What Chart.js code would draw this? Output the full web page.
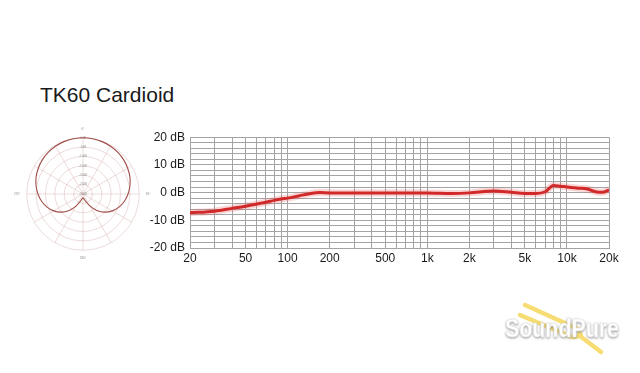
<!DOCTYPE html>
<html>
<head>
<meta charset="utf-8">
<script src="https://cdn.jsdelivr.net/npm/chart.js@4.4.1/dist/chart.umd.min.js"></script>
<style>
  html, body { margin: 0; padding: 0; background: #fff; }
  body { width: 640px; height: 373px; position: relative; overflow: hidden; font-family: "Liberation Sans", Arial, sans-serif; }
  #title { position: absolute; left: 40px; top: 84px; font-size: 21px; line-height: 21px; color: #1a1a1a; white-space: nowrap; }
  #polarBox { position: absolute; left: 14px; top: 125px; width: 138px; height: 138px; }
  #freqBox { position: absolute; left: 140px; top: 125px; width: 485px; height: 150px; }
  #mark { position: absolute; left: 495px; top: 290px; }
</style>
</head>
<body>
<div id="title">TK60 Cardioid</div>
<div id="polarBox"><canvas id="polarChart"></canvas></div>
<div id="freqBox"><canvas id="freqChart"></canvas></div>
<svg id="mark" width="140" height="75" viewBox="0 0 140 75">
  <defs>
    <filter id="shade" x="-10%" y="-30%" width="120%" height="160%">
      <feDropShadow dx="0" dy="1" stdDeviation="1.3" flood-color="#7a7a7a" flood-opacity="0.8"/>
    </filter>
  </defs>
  <g stroke="#f6d963" stroke-width="4.5" stroke-linecap="round" stroke-linejoin="round" fill="none" opacity="0.9">
    <polyline points="30,15 83,39 86,46 77,47 25,25"/>
    <line x1="85" y1="46" x2="106" y2="62"/>
  </g>
  <text x="10" y="47" font-family="Liberation Sans, Arial, sans-serif" font-size="26" font-weight="bold" fill="#fff"
        stroke="#e2e2e2" stroke-width="0.6" textLength="114" lengthAdjust="spacingAndGlyphs"
        filter="url(#shade)">SoundPure</text>
</svg>
<script>
// polar pattern (dB), every 10 degrees, 0 = front (top)
const polarAngles = ['0°','10°','20°','30°','40°','50°','60°','70°','80°','90°','100°','110°','120°','130°','140°','150°','160°','170°',
                     '180°','190°','200°','210°','220°','230°','240°','250°','260°','270°','280°','290°','300°','310°','320°','330°','340°','350°'];
const polarDb = [0, -0.1, -0.3, -0.6, -1.1, -1.7, -2.5, -3.4, -4.6, -6.0, -7.6, -9.6, -12.0, -15.0, -18.6, -22.5, -26.0, -27.5,
                 -28.0, -27.5, -26.0, -22.5, -18.6, -15.0, -12.0, -9.6, -7.6, -6.0, -4.6, -3.4, -2.5, -1.7, -1.1, -0.6, -0.3, -0.1];
const polarShown = ['0°', '90°', '180°', '270°'];

// frequency response
const freqHz = [20, 30, 40, 50, 60, 70, 80, 90, 100, 120, 150, 170, 200, 300, 500, 1000, 1500, 2000, 3000, 4000, 5000, 6000,
                7000, 8000, 9000, 10000, 12000, 14000, 16000, 18000, 20000];
const responseDb = [-7.3, -6.7, -5.7, -4.9, -4.1, -3.5, -2.8, -2.3, -2.0, -1.2, -0.2, 0, -0.1, -0.1, -0.1, -0.1, -0.3, -0.1, 0.6, 0.1, -0.3, -0.3,
                    0.3, 2.6, 2.3, 2.0, 1.6, 1.3, 0.3, 0.1, 1.0];
const gridHz = [20, 30, 40, 50, 60, 70, 80, 90, 100, 200, 300, 400, 500, 600, 700, 800, 900, 1000, 2000, 3000, 4000, 5000, 6000,
                7000, 8000, 9000, 10000, 20000];
const freqLabels = { 20: '20', 50: '50', 100: '100', 200: '200', 500: '500', 1000: '1k', 2000: '2k', 5000: '5k', 10000: '10k', 20000: '20k' };

const polarGrid = 'rgba(210, 165, 165, 0.5)';

new Chart(document.getElementById('polarChart'), {
    type: 'radar',
    data: {
        labels: polarAngles,
        datasets: [{
            data: polarDb,
            borderColor: '#a04e48',
            borderWidth: 1.1,
            pointRadius: 0,
            fill: false,
            tension: 0.3
        }]
    },
    options: {
        responsive: true,
        maintainAspectRatio: false,
        animation: false,
        plugins: { legend: { display: false }, tooltip: { enabled: false } },
        scales: {
            r: {
                min: -30,
                max: 0,
                ticks: {
                    stepSize: 5,
                    font: { size: 3 },
                    color: '#999',
                    showLabelBackdrop: false,
                    callback: v => v + 'dB'
                },
                grid: { circular: true, color: polarGrid, lineWidth: 0.8 },
                angleLines: {
                    color: polarGrid,
                    lineWidth: ctx => (ctx.index % 3 === 0 ? 0.8 : 0)
                },
                pointLabels: {
                    font: { size: 3 },
                    color: '#888',
                    padding: 3,
                    callback: label => (polarShown.includes(label) ? label : '')
                }
            }
        }
    }
});

const points = freqHz.map((f, i) => ({ x: f, y: responseDb[i] }));

new Chart(document.getElementById('freqChart'), {
    type: 'line',
    data: {
        datasets: [
            { data: points, borderColor: 'rgba(235, 90, 90, 0.25)', borderWidth: 7, pointRadius: 0, cubicInterpolationMode: 'monotone' },
            { data: points, borderColor: '#c81818', borderWidth: 3, pointRadius: 0, cubicInterpolationMode: 'monotone' }
        ]
    },
    options: {
        responsive: true,
        maintainAspectRatio: false,
        animation: false,
        layout: { padding: { top: 12, right: 16, bottom: 7, left: 0 } },
        plugins: { legend: { display: false }, tooltip: { enabled: false } },
        scales: {
            x: {
                type: 'logarithmic',
                min: 20,
                max: 20000,
                afterBuildTicks: scale => { scale.ticks = gridHz.map(v => ({ value: v })); },
                afterFit: scale => { scale.height = 20; },
                ticks: {
                    autoSkip: false,
                    maxRotation: 0,
                    padding: 3,
                    color: '#1a1a1a',
                    font: { family: 'Liberation Sans', size: 12 },
                    callback: v => freqLabels[v] || ''
                },
                grid: { color: '#a4a4a4', lineWidth: 1, drawTicks: false },
                border: { color: '#a4a4a4' }
            },
            y: {
                min: -20,
                max: 20,
                afterFit: scale => { scale.width = 50; },
                ticks: {
                    stepSize: 2,
                    autoSkip: false,
                    padding: 5,
                    color: '#1a1a1a',
                    font: { family: 'Liberation Sans', size: 12 },
                    callback: v => (v % 10 === 0 ? v + ' dB' : '')
                },
                grid: { color: '#a4a4a4', lineWidth: 1, drawTicks: false },
                border: { color: '#a4a4a4' }
            }
        }
    }
});
</script>
</body>
</html>
